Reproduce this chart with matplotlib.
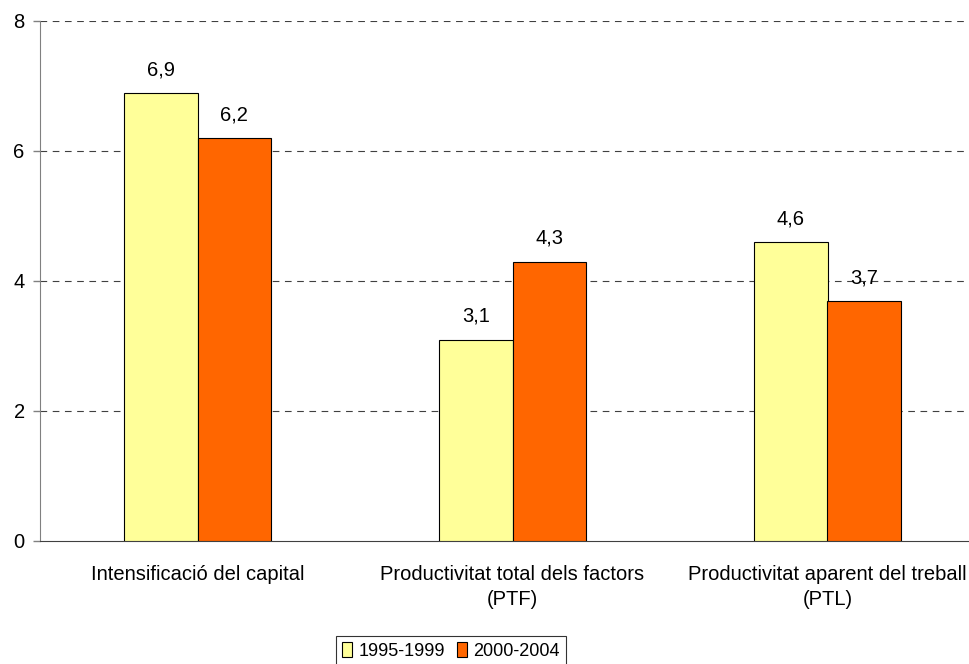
import matplotlib
matplotlib.use("Agg")
import matplotlib.pyplot as plt
import numpy as np

categories = ["Intensificació del capital",
              "Productivitat total dels factors\n(PTF)",
              "Productivitat aparent del treball\n(PTL)"]
series_names = ["1995-1999", "2000-2004"]
values_1995_1999 = [6.9, 3.1, 4.6]
values_2000_2004 = [6.2, 4.3, 3.7]
y_ticks = [0, 2, 4, 6, 8]

colors = ["#FFFF99", "#FF6600"]

plt.rcParams["font.family"] = ["Liberation Sans", "DejaVu Sans"]

fig = plt.figure(figsize=(9.69, 6.64), dpi=100)
ax = fig.add_axes([40 / 969, (664 - 541) / 664, 1 - 40 / 969, (541 - 21) / 664])

x = np.arange(len(categories))
w = 0.233
for i, (vals, name) in enumerate(zip([values_1995_1999, values_2000_2004], series_names)):
    pos = x + (i - 0.5) * w
    ax.bar(pos, vals, width=w, color=colors[i], edgecolor="black",
           linewidth=0.8, label=name, zorder=3)
    for xp, v in zip(pos, vals):
        ax.annotate(f"{v:.1f}".replace(".", ","), (xp, v), xytext=(0, 23),
                    textcoords="offset pixels", ha="center", va="center",
                    fontsize=14.5, zorder=4)

ax.set_xlim(-0.5, (969 - 40) / 315 - 0.5)
ax.set_ylim(0, 8)
ax.set_yticks(y_ticks)
ax.set_yticklabels([str(t) for t in y_ticks], fontsize=14.5)
ax.set_xticks(x)
ax.set_xticklabels(categories, fontsize=14.5, linespacing=1.4)
ax.tick_params(axis="x", length=0, pad=17)
ax.tick_params(axis="y", length=5, width=1, color="#808080", pad=6)

for t in y_ticks[1:]:
    ax.axhline(t, color="#404040", linestyle=(0, (6, 5)), linewidth=0.8, zorder=1)

for s in ["top", "right"]:
    ax.spines[s].set_visible(False)
ax.spines["left"].set_color("#808080")
ax.spines["bottom"].set_color("#404040")

leg = fig.legend(loc="upper center", bbox_to_anchor=(451 / 969, 1 - 636 / 664),
                 ncol=2, fontsize=13, frameon=True, fancybox=False,
                 edgecolor="black", handlelength=0.55, handleheight=0.9,
                 handletextpad=0.35, columnspacing=0.7, borderpad=0.35,
                 borderaxespad=0)
leg.get_frame().set_linewidth(0.8)

fig.savefig("out.png", dpi=100)
